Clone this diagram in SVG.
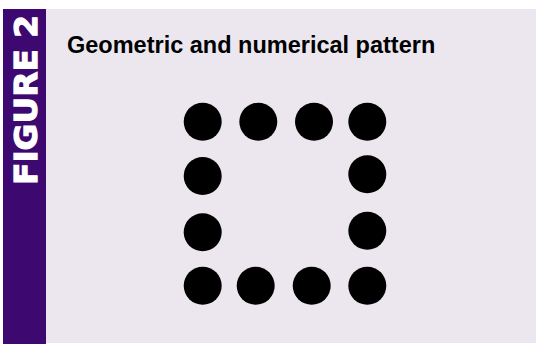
<svg xmlns="http://www.w3.org/2000/svg" width="536" height="345" viewBox="0 0 536 345">
<style>
.dot{fill:#000}
.title{font-family:"Liberation Sans",Arial,sans-serif;font-weight:bold;font-size:23.5px;fill:#000}
.fig{font-family:"DejaVu Sans",sans-serif;font-weight:bold;font-size:32px;fill:#fff;stroke:#fff;stroke-width:1.2px}
</style>
<rect x="0" y="0" width="536" height="345" fill="#fff"/>
<rect x="46" y="9" width="490" height="334" fill="#ECE7EF"/>
<rect x="3" y="9" width="43" height="335" fill="#3D0870"/>
<text class="fig" transform="translate(37,185) rotate(-90)" textLength="170" lengthAdjust="spacingAndGlyphs">FIGURE 2</text>
<text class="title" x="67" y="53">Geometric and numerical pattern</text>
<g id="dots">
<circle class="dot" cx="202.7" cy="121.7" r="19"/>
<circle class="dot" cx="258.3" cy="121.7" r="19"/>
<circle class="dot" cx="314" cy="121.7" r="19"/>
<circle class="dot" cx="367.3" cy="121.7" r="19"/>
<circle class="dot" cx="202.7" cy="176" r="19"/>
<circle class="dot" cx="367.3" cy="174.3" r="19"/>
<circle class="dot" cx="202.7" cy="232.3" r="19"/>
<circle class="dot" cx="367.3" cy="230.7" r="19"/>
<circle class="dot" cx="202.7" cy="285.7" r="19"/>
<circle class="dot" cx="255.7" cy="285.7" r="19"/>
<circle class="dot" cx="311.7" cy="285.7" r="19"/>
<circle class="dot" cx="367.3" cy="285.7" r="19"/>
</g>
</svg>
